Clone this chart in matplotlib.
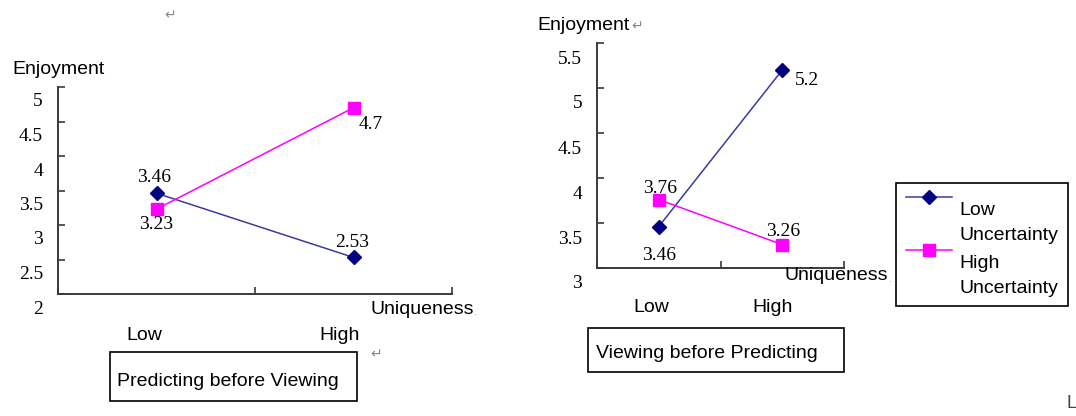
import matplotlib
matplotlib.use("Agg")
import matplotlib.pyplot as plt
from matplotlib.lines import Line2D
from matplotlib.patches import Rectangle
from matplotlib.transforms import ScaledTranslation, Bbox, TransformedBbox
from matplotlib.legend_handler import HandlerLine2D

# chart values
categories = ["Low", "High"]
series_names = ["Low\nUncertainty", "High\nUncertainty"]

pbv_low_unc = [3.46, 2.53]    # Predicting before Viewing
pbv_high_unc = [3.23, 4.7]
vbp_low_unc = [3.46, 5.2]     # Viewing before Predicting
vbp_high_unc = [3.76, 3.26]

pbv_yticks = [2, 2.5, 3, 3.5, 4, 4.5, 5]
vbp_yticks = [3, 3.5, 4, 4.5, 5, 5.5]

W, H = 1076, 416
SERIF = "Liberation Serif"
SANS = ["Liberation Sans", "DejaVu Sans"]
BLUE_LINE = "#3a3aa0"
BLUE_MARK = "#000080"
PINK = "#ff00ff"
AXC = "#3a3a3a"

fig = plt.figure(figsize=(W / 100, H / 100), dpi=100)


def fx(px):
    return px / W


def fy(py):
    return 1 - py / H


def px_off(dx, dy):
    return ScaledTranslation(dx / 100, dy / 100, fig.dpi_scale_trans)


def make_axes(left, right, top, bottom, yticks, lab_dy):
    ax = fig.add_axes([fx(left), fy(bottom), (right - left) / W, (bottom - top) / H])
    ax.set_xlim(0, 2)
    ax.set_ylim(yticks[0], yticks[-1])
    for s in ["top", "right"]:
        ax.spines[s].set_visible(False)
    for s in ["left", "bottom"]:
        ax.spines[s].set_color(AXC)
        ax.spines[s].set_linewidth(1.4)
    ax.set_xticks([0, 1, 2])
    ax.set_yticks(yticks)
    ax.tick_params(direction="in", length=5, width=1.2, color=AXC,
                   labelleft=False, labelbottom=False)
    ax.patch.set_alpha(0)
    # tick labels sit a bit below their tick, like the original
    trans = ax.get_yaxis_transform() + px_off(-15, lab_dy)
    for v in yticks:
        ax.text(0, v, f"{v:g}", transform=trans,
                ha="right", va="center", fontsize=14, family=SERIF)
    return ax


def draw_series(ax, low_vals, high_vals, offsets):
    x = [0.5, 1.5]
    ax.plot(x, low_vals, color=BLUE_LINE, lw=1.1, marker="D", ms=7.5,
            mfc=BLUE_MARK, mec=BLUE_MARK, clip_on=False)
    ax.plot(x, high_vals, color=PINK, lw=1.1, marker="s", ms=8,
            mfc=PINK, mec=PINK, clip_on=False)
    vals = [low_vals, high_vals]
    for si in range(2):
        for ci in range(2):
            v = vals[si][ci]
            dx, dy = offsets[si][ci]
            ax.annotate(f"{v:g}", (x[ci], v), xytext=(dx, dy - 2.5),
                        textcoords="offset pixels", ha="center", va="center",
                        fontsize=14, family=SERIF)


def cat_labels(ax, dxs, dy):
    for i, c in enumerate(categories):
        trans = ax.get_xaxis_transform() + px_off(dxs[i], -dy)
        ax.text(0.5 + i, 0, c, transform=trans, ha="center", va="center",
                fontsize=14, family=SANS)


# left panel
ax1 = make_axes(58, 452, 87, 294, pbv_yticks, -15)
draw_series(ax1, pbv_low_unc, pbv_high_unc,
            [[(-2, 18), (-1, 17)], [(0, -13), (17, -14)]])
cat_labels(ax1, [-12, -14], 41)

# right panel
ax2 = make_axes(597, 844, 43, 268, vbp_yticks, -16)
draw_series(ax2, vbp_low_unc, vbp_high_unc,
            [[(0, -26), (25, -8)], [(1, 14), (1, 16)]])
cat_labels(ax2, [-7, -10], 40)

# axis titles
fig.text(fx(12), fy(70), "Enjoyment", fontsize=14, family=SANS, va="center")
fig.text(fx(537), fy(25), "Enjoyment", fontsize=14, family=SANS, va="center")
fig.text(fx(631), fy(26), "\u21b5", fontsize=10, family=SANS, va="center", color="#888888")
fig.text(fx(370), fy(309), "Uniqueness", fontsize=14, family=SANS, va="center")
fig.text(fx(474), fy(312), ".", fontsize=8, family=SANS, va="center", color="#999999")
fig.text(fx(785), fy(276), "Uniqueness", fontsize=14, family=SANS, va="center")
fig.text(fx(889), fy(279), ".", fontsize=8, family=SANS, va="center", color="#999999")

# stray paragraph marks from the source document
fig.text(fx(164), fy(15), "\u21b5", fontsize=10, family=SANS, va="center", color="#888888")
fig.text(fx(370), fy(354), "\u21b5", fontsize=10, family=SANS, va="center", color="#888888")
fig.text(fx(1066), fy(404), "L", fontsize=13, family=SANS, va="center", color="#444444")

# condition boxes
box1 = Rectangle((fx(110), fy(401)), (357 - 110) / W, (401 - 352) / H,
                 transform=fig.transFigure, fill=False, ec="black", lw=1.2)
fig.patches.append(box1)
fig.text(fx(117), fy(382), "Predicting before Viewing", fontsize=14,
         family=SANS, va="center")

box2 = Rectangle((fx(588), fy(372)), (844 - 588) / W, (372 - 328) / H,
                 transform=fig.transFigure, fill=False, ec="black", lw=1.2)
fig.patches.append(box2)
t2 = fig.text(fx(596), fy(354), "Viewing before Predicting", fontsize=14,
              family=SANS, va="center")
# the original cuts off the descenders of this caption
t2.set_clip_box(TransformedBbox(Bbox([[fx(588), fy(362)], [fx(844), fy(328)]]),
                                fig.transFigure))
t2.set_clip_on(True)


class RaisedLine(HandlerLine2D):
    # puts the legend sample just above the first line of the label
    def create_artists(self, legend, orig_handle, xdescent, ydescent,
                       width, height, fontsize, trans):
        return super().create_artists(legend, orig_handle, xdescent,
                                      ydescent - 16.4, width, height,
                                      fontsize, trans)


# legend
handles = [
    Line2D([], [], color=BLUE_LINE, lw=1.1, marker="D", ms=7.5, mfc=BLUE_MARK, mec=BLUE_MARK),
    Line2D([], [], color=PINK, lw=1.1, marker="s", ms=8, mfc=PINK, mec=PINK),
]
leg = fig.legend(handles, series_names, loc="upper left",
                 bbox_to_anchor=(fx(896), fy(183)), borderaxespad=0,
                 fancybox=False, edgecolor="black", framealpha=1,
                 prop={"family": SANS, "size": 14}, handlelength=2.4,
                 handleheight=3.66, handletextpad=0.35, labelspacing=0.1,
                 borderpad=0.5, handler_map={Line2D: RaisedLine()})
leg.get_frame().set_linewidth(1.2)
for t in leg.get_texts():
    t.set_linespacing(1.58)
for hp in leg._legend_handle_box.get_children()[0].get_children():
    hp.align = "bottom"

fig.savefig("out.png", dpi=100)
